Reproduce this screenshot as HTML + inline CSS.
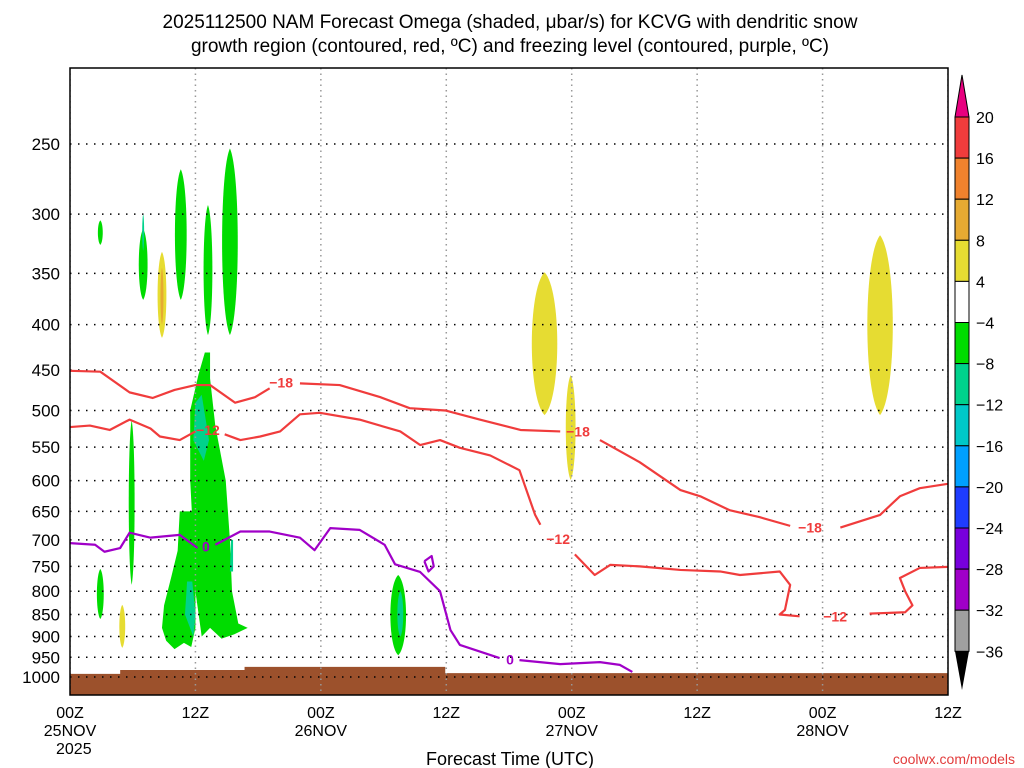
<!DOCTYPE html>
<html><head><meta charset="utf-8"><style>
body{margin:0;background:#fff;}
svg{display:block;font-family:"Liberation Sans",sans-serif;}
</style></head><body>
<svg id="c" width="1024" height="768" viewBox="0 0 1024 768">
<text x="510" y="28" font-size="19" text-anchor="middle">2025112500 NAM Forecast Omega (shaded, μbar/s) for KCVG with dendritic snow</text>
<text x="510" y="52" font-size="19" text-anchor="middle">growth region (contoured, red, ºC) and freezing level (contoured, purple, ºC)</text>
<g id="plot"></g>
<text x="510" y="765" font-size="18" text-anchor="middle">Forecast Time (UTC)</text>
<text x="1015" y="764" font-size="14" fill="#e23c3c" text-anchor="end">coolwx.com/models</text>
</svg>
<script>
const yLevels=[250,300,350,400,450,500,550,600,650,700,750,800,850,900,950,1000];
const xTicksH=[0,12,24,36,48,60,72,84];
const xTickLines1=["00Z","12Z","00Z","12Z","00Z","12Z","00Z","12Z"];
const xTickLines2=["25NOV","","26NOV","","27NOV","","28NOV",""];
const xTickLines3=["2025","","","","","","",""];
const cbLabels=["20","16","12","8","4","-4","-8","-12","-16","-20","-24","-28","-32","-36"];
const cbColors=["#f03c3c","#f0822d","#e6aa32","#e6dc32","#ffffff","#00dc00","#00d28c","#00c8c8","#00a0ff","#1e3cff","#7800dc","#a000c8","#a0a0a0"];
// blobs: [hour, pTop, pBottom, halfWidthHours]
const greenBlobs=[[2.9,305,325,0.25],[7.0,312,375,0.45],[10.6,267,375,0.6],[13.2,293,411,0.45],[15.3,253,411,0.8],[2.9,755,860,0.35],[5.9,513,787,0.3],[31.4,767,945,0.8]];
const tealBlobs=[[31.6,800,900,0.3],[7.0,300,330,0.1]];
const yellowBlobs=[[8.8,331,414,0.45],[5.0,829,927,0.3],[45.4,349,506,1.3],[47.9,456,599,0.5],[77.5,317,506,1.3]];
const orangeBlobs=[[8.8,345,400,0.15]];
const mainGreenH=[12.9,12.3,11.5,11.5,11.8,12.0,12.6,13.4,14.5,15.7,17.0,16.1,15.5,15.3,14.9,13.9,13.4,13.4];
const mainGreenP=[430,455,500,600,700,800,900,880,905,895,880,870,800,700,600,520,460,430];
const leftGreenH=[10.5,10.3,9.7,9.0,8.8,9.2,10.0,10.9,11.6,12.0,12.0,12.0];
const leftGreenP=[650,720,770,830,880,910,930,915,925,880,700,650];
const teal1H=[12.0,11.8,12.8,13.3,12.6];
const teal1P=[490,540,570,540,480];
const teal2H=[11.2,11.0,11.8,12.0,11.7];
const teal2P=[780,850,900,850,780];
const teal3H=[15.4,15.3,15.6,15.6];
const teal3P=[700,760,760,700];
const groundH=[0,4.8,4.8,16.7,16.7,35.9,35.9,84];
const groundP=[992,992,982,982,974,974,990,990];
const m18aH=[0,2.9,5.7,7.9,10.0,12,13.4,15.8,17.7,19.1];
const m18aP=[451,452,477,484,474,468,468,490,483,472];
const m18bH=[22,25.8,29.7,32.5,35.9,39.2,43.1,46.9];
const m18bP=[466,468,483,497,500,512,526,528];
const m18cH=[50.7,54.5,58.4,60.3,63.1,66,68.9];
const m18cP=[540,572,615,625,648,660,675];
const m18dH=[73.7,77.5,79.4,81.3,84];
const m18dP=[678,656,625,612,605];
const m12aH=[0,1.9,3.8,5.7,7.7,8.6,10.5,12];
const m12aP=[522,520,526,512,524,535,540,528];
const m12bH=[14.8,16.3,18.2,20.1,22,23.9,27.7,31.6,33.5,35.4,37.3,40.2,43,44.5,45];
const m12bP=[532,540,535,528,505,503,512,528,547,540,551,562,584,656,673];
const m12cH=[48.3,50.2,51.7,54.5,58.4,62.2,64.1,67.9,68.9,68.4,67.9,69.8];
const m12cP=[727,767,747,750,757,760,767,760,787,840,850,854];
const m12dH=[76.5,79.9,80.6,79.9,79.4,81.3,84];
const m12dP=[848,845,830,800,773,753,751];
const z0aH=[0,2.4,3.3,4.8,5.7,7.7,10.5,12.2];
const z0aP=[706,709,722,715,687,696,691,715];
const z0bH=[13.9,16.3,19.1,22,23.4,24.9,27.7,30.1,31.1,33.5,35.4,36.4,37.3,41.1];
const z0bP=[709,685,685,696,719,679,682,709,746,761,800,885,920,952];
const z0cH=[43,46.9,50.7,52.6,53.8];
const z0cP=[957,967,962,969,987];
const loopH=[33.9,34.6,34.8,34.3,33.9];
const loopP=[740,730,750,760,740];
const contourLabels=[[20.2,465,"-18","#f03c3c"],[48.6,528,"-18","#f03c3c"],[70.8,678,"-18","#f03c3c"],[13.2,526,"-12","#f03c3c"],[46.7,698,"-12","#f03c3c"],[73.2,854,"-12","#f03c3c"],[13.0,712,"0","#a000c8"],[42.1,955,"0","#a000c8"]];

const L=70,R=948,T=68,B=695;
const X=h=>L+h*(R-L)/84;
const Y=p=>677-384.5*Math.log(1000/p);
const NS="http://www.w3.org/2000/svg";
const plot=document.getElementById('plot');
function mk(tag,attrs,parent){const e=document.createElementNS(NS,tag);for(const k in attrs)e.setAttribute(k,attrs[k]);(parent||plot).appendChild(e);return e;}
const clip=mk('clipPath',{id:'clp'});mk('rect',{x:L,y:T,width:R-L,height:B-T},clip);
const g=mk('g',{'clip-path':'url(#clp)'});


function blob(b,col,name){const x=X(b[0]),y1=Y(b[1]),y2=Y(b[2]),w=b[3]*(R-L)/84*1.25;const dy=(y2-y1)*0.12;
 const e=mk('path',{d:`M${x},${y1} C${x+w},${y1+dy} ${x+w},${y2-dy} ${x},${y2} C${x-w},${y2-dy} ${x-w},${y1+dy} ${x},${y1}Z`,fill:col},g);
 
 }
function poly(hs,ps,col,name){const e=mk('polygon',{points:hs.map((h,i)=>X(h)+','+Y(ps[i])).join(' '),fill:col},g);
 
 }
function line(hs,ps,col,name){const e=mk('polyline',{points:hs.map((h,i)=>X(h)+','+Y(ps[i])).join(' '),fill:'none',stroke:col,'stroke-width':2.2,'stroke-linejoin':'round'},g);
 
 }
greenBlobs.forEach(b=>blob(b,'#00dc00','omega-green-area'));
poly(mainGreenH,mainGreenP,'#00dc00','omega-main-area');
poly(leftGreenH,leftGreenP,'#00dc00','omega-left-area');
poly(teal1H,teal1P,'#00d28c','omega-teal-area');
poly(teal2H,teal2P,'#00d28c','omega-teal-area');
poly(teal3H,teal3P,'#00d28c','omega-teal-area');
tealBlobs.forEach(b=>blob(b,'#00d28c','omega-teal-area'));
yellowBlobs.forEach(b=>blob(b,'#e6dc32','omega-yellow-area'));
orangeBlobs.forEach(b=>blob(b,'#e6aa32','omega-orange-area'));
{const pts=groundH.map((h,i)=>X(h)+','+Y(groundP[i]));pts.push(R+','+B,L+','+B);
 const e=mk('polygon',{points:pts.join(' '),fill:'#9c512c'},g);
 
 }
xTicksH.forEach(h=>{const e=mk('line',{x1:X(h),x2:X(h),y1:T,y2:B,stroke:'#999','stroke-width':1.5,'stroke-dasharray':'1.5 4'},g);
 
 });
yLevels.forEach(p=>{const e=mk('line',{x1:L,x2:R,y1:Y(p),y2:Y(p),stroke:'#000','stroke-width':1.5,'stroke-dasharray':'1.5 6.5'},g);
 
 });
[[m18aH,m18aP],[m18bH,m18bP],[m18cH,m18cP],[m18dH,m18dP]].forEach(a=>line(a[0],a[1],'#f03c3c','contour-minus18'));
[[m12aH,m12aP],[m12bH,m12bP],[m12cH,m12cP],[m12dH,m12dP]].forEach(a=>line(a[0],a[1],'#f03c3c','contour-minus12'));
[[z0aH,z0aP],[z0bH,z0bP],[z0cH,z0cP],[loopH,loopP]].forEach(a=>line(a[0],a[1],'#a000c8','freezing-level-contour'));
contourLabels.forEach(c=>{const t=mk('text',{x:X(c[0]),y:Y(c[1])+5,'font-size':14,'font-weight':'bold',fill:c[3],'text-anchor':'middle'},g);t.textContent=c[2].replace('-','−');
 
 });
{const e=mk('rect',{x:L,y:T,width:R-L,height:B-T,fill:'none',stroke:'#000','stroke-width':1.5});
 
 }
yLevels.forEach(p=>{const t=mk('text',{x:60,y:Y(p)+6,'font-size':17,'text-anchor':'end'});t.textContent=p;
 
 });
xTicksH.forEach((h,i)=>{[xTickLines1[i],xTickLines2[i],xTickLines3[i]].forEach((s,j)=>{if(!s)return;
 const t=mk('text',{x:X(h),y:718+j*18,'font-size':16,'text-anchor':j==2?'start':'middle'});
 if(j==2)t.setAttribute('x',X(h)-14);
 t.textContent=s;
 
 });});
const cbTop=117,cbStep=41.1,cx1=955,cx2=969;
{const e=mk('polygon',{points:`${(cx1+cx2)/2},75 ${cx2},${cbTop} ${cx1},${cbTop}`,fill:'#e8007f',stroke:'#000'});
 
 }
cbColors.forEach((c,i)=>{const e=mk('rect',{x:cx1,y:cbTop+i*cbStep,width:cx2-cx1,height:cbStep,fill:c,stroke:'#000'});
 
 });
{const yb=cbTop+cbColors.length*cbStep;const e=mk('polygon',{points:`${cx1},${yb} ${cx2},${yb} ${(cx1+cx2)/2},690`,fill:'#000'});
 
 }
cbLabels.forEach((s,i)=>{const t=mk('text',{x:976,y:cbTop+i*cbStep+6,'font-size':16});t.textContent=s.replace('-','−');
 
 });
</script>
</body></html>
